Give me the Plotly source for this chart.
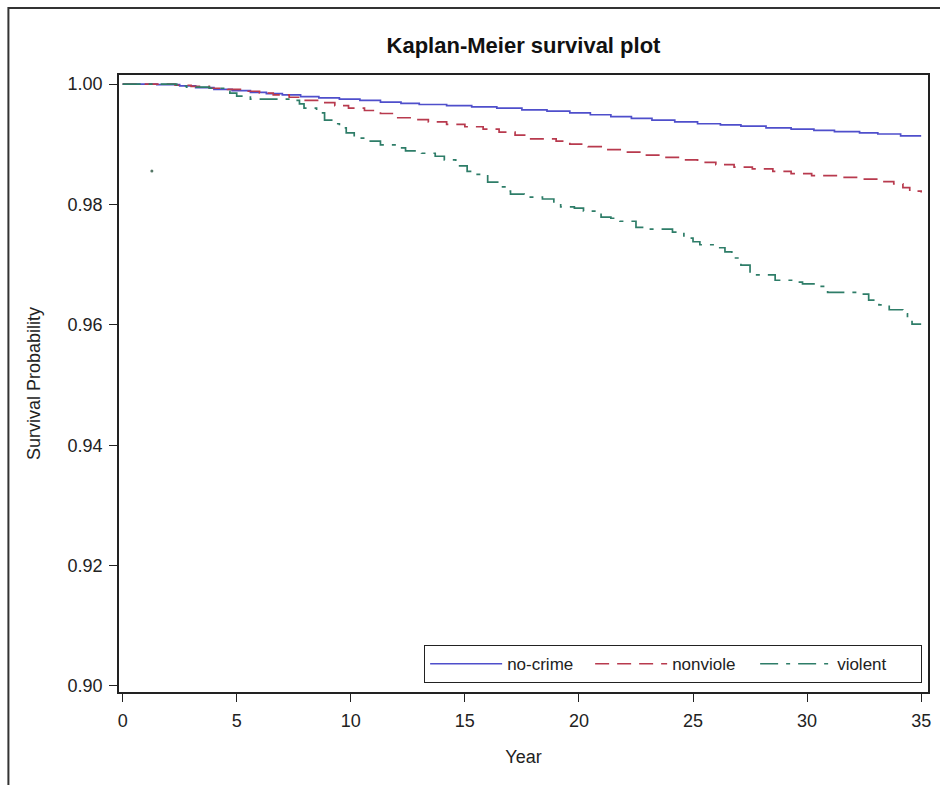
import plotly.graph_objects as go

# ---- data ----
nocrime_t = [0, 1.5, 2.5, 3.2, 4.0, 4.8, 5.6, 6.3, 7.0, 7.8, 8.6, 9.5, 10.4, 11.3, 12.2, 13.0,
             14.2, 15.3, 16.4, 17.5, 18.6, 19.6, 20.5, 21.4, 22.3, 23.2, 24.2, 25.2, 26.2,
             27.1, 28.2, 29.3, 30.3, 31.2, 32.3, 33.1, 34.1, 35.0]
nocrime_s = [1.0000, 0.9999, 0.9997, 0.9994, 0.9991, 0.9989, 0.9986, 0.9984, 0.9982, 0.9979,
             0.9977, 0.9975, 0.9973, 0.9970, 0.9968, 0.9966, 0.9964, 0.9962, 0.9960, 0.9957,
             0.9955, 0.9952, 0.9949, 0.9946, 0.9943, 0.9940, 0.9937, 0.9934, 0.9932, 0.9930,
             0.9927, 0.9925, 0.9923, 0.9921, 0.9919, 0.9917, 0.9914, 0.9914]

nonviol_t = [0, 1.0, 2.3, 3.0, 3.8, 4.6, 5.4, 6.0, 6.6, 7.3, 7.9, 8.6, 9.3, 9.9, 10.6, 11.3,
             12.0, 12.7, 13.4, 14.2, 15.0, 15.8, 16.5, 17.2, 17.8, 19.0, 19.6, 20.4, 21.2,
             22.0, 22.8, 23.6, 24.4, 25.2, 26.0, 26.8, 27.6, 28.5, 29.3, 30.2, 31.4, 32.3,
             33.2, 33.8, 34.2, 34.5, 35.0]
nonviol_s = [1.0000, 1.0000, 0.9998, 0.9996, 0.9993, 0.9991, 0.9988, 0.9985, 0.9982, 0.9978,
             0.9973, 0.9969, 0.9964, 0.9960, 0.9956, 0.9951, 0.9944, 0.9941, 0.9937, 0.9933,
             0.9929, 0.9925, 0.9920, 0.9915, 0.9909, 0.9905, 0.9900, 0.9896, 0.9891, 0.9887,
             0.9882, 0.9878, 0.9874, 0.9870, 0.9866, 0.9862, 0.9859, 0.9855, 0.9851, 0.9848,
             0.9845, 0.9842, 0.9838, 0.9834, 0.9828, 0.9822, 0.9820]

violent_t = [0, 2.37, 2.8, 3.8, 4.5, 4.7, 5.0, 5.6, 7.6, 7.75, 7.95, 8.5, 8.85, 9.2, 9.5, 9.8,
             10.15, 10.6, 11.3, 12.0, 12.4, 13.1, 13.7, 14.1, 14.6, 15.1, 15.5, 16.0, 16.5,
             16.8, 17.0, 17.6, 18.4, 18.9, 19.2, 19.8, 20.2, 20.97, 21.4, 21.8, 22.5, 22.9,
             24.1, 24.6, 25.0, 25.3, 25.95, 26.4, 26.7, 27.1, 27.5, 28.6, 29.4, 29.8, 30.5,
             30.9, 32.4, 32.7, 33.15, 33.6, 34.2, 34.4, 34.6, 35.0]
violent_s = [1.0000, 0.99967, 0.9995, 0.9993, 0.9988, 0.9985, 0.9980, 0.9975, 0.9973, 0.9967,
             0.9960, 0.9952, 0.9940, 0.9934, 0.9927, 0.9919, 0.9910, 0.9905, 0.9899, 0.9894,
             0.9889, 0.9885, 0.9880, 0.9874, 0.9864, 0.9855, 0.9850, 0.9837, 0.9829, 0.9822,
             0.9817, 0.9812, 0.9809, 0.9804, 0.9796, 0.9794, 0.9789, 0.9779, 0.9777, 0.9772,
             0.9762, 0.9759, 0.9754, 0.9744, 0.9738, 0.9733, 0.9728, 0.9721, 0.9711, 0.9699,
             0.9683, 0.9674, 0.9671, 0.9668, 0.9664, 0.9654, 0.9651, 0.9641, 0.9633, 0.9625,
             0.9618, 0.9610, 0.9601, 0.9601]

stray_t = [1.28]
stray_s = [0.98555]

series_names = ["no-crime", "nonviole", "violent"]
x_ticks = [0, 5, 10, 15, 20, 25, 30, 35]
y_ticks = [0.90, 0.92, 0.94, 0.96, 0.98, 1.00]

FONT = "Liberation Sans, Arial, sans-serif"

fig = go.Figure()
fig.add_trace(go.Scatter(x=nocrime_t, y=nocrime_s, name=series_names[0], mode="lines",
                         line=dict(shape="hv", color="#4F4FCB", width=1.7)))
fig.add_trace(go.Scatter(x=nonviol_t, y=nonviol_s, name=series_names[1], mode="lines",
                         line=dict(shape="hv", color="#B83A4E", width=1.7, dash="14px,8px")))
fig.add_trace(go.Scatter(x=violent_t, y=violent_s, name=series_names[2], mode="lines",
                         line=dict(shape="hv", color="#2E7D68", width=1.7,
                                   dash="18px,8px,4px,8px")))
fig.add_trace(go.Scatter(x=stray_t, y=stray_s, mode="markers", showlegend=False,
                         marker=dict(size=3, color="#557766")))

axis_common = dict(showline=True, linecolor="#222222", linewidth=1.5, mirror=True,
                   ticks="outside", ticklen=8, tickwidth=1.3, tickcolor="#222222",
                   showgrid=False, zeroline=False,
                   tickfont=dict(family=FONT, size=18, color="#222222"))

fig.update_xaxes(range=[-0.16, 35.3], tickvals=x_ticks, ticklabelstandoff=4,
                 title=dict(text="Year", font=dict(family=FONT, size=18, color="#222222"),
                            standoff=20),
                 **axis_common)
fig.update_yaxes(range=[0.899, 1.0015], tickvals=y_ticks, tickformat=".2f",
                 ticklabelstandoff=3,
                 title=dict(text="Survival Probability",
                            font=dict(family=FONT, size=18, color="#222222"), standoff=22),
                 **axis_common)

fig.update_layout(
    width=940, height=785,
    margin=dict(l=119, r=9, t=75, b=93),
    paper_bgcolor="white", plot_bgcolor="white",
    title=dict(text="<b>Kaplan-Meier survival plot</b>", x=0.5, xref="paper",
               y=1 - 45 / 785, yref="container", yanchor="middle", xanchor="center",
               font=dict(family=FONT, size=22, color="#111111")),
    legend=dict(orientation="h", x=0.9925, xanchor="right", y=0.0146, yanchor="bottom",
                bgcolor="white", bordercolor="#222222", borderwidth=1.2,
                font=dict(family=FONT, size=17, color="#222222"),
                itemwidth=72, entrywidth=78, entrywidthmode="pixels",
                tracegroupgap=0),
    shapes=[dict(type="rect", xref="paper", yref="paper",
                 x0=-0.1367, x1=1.2, y0=-0.3, y1=1.1086,
                 line=dict(color="#333333", width=2), fillcolor="rgba(0,0,0,0)",
                 layer="below")],
    showlegend=True,
)

fig.write_html("out.html")
